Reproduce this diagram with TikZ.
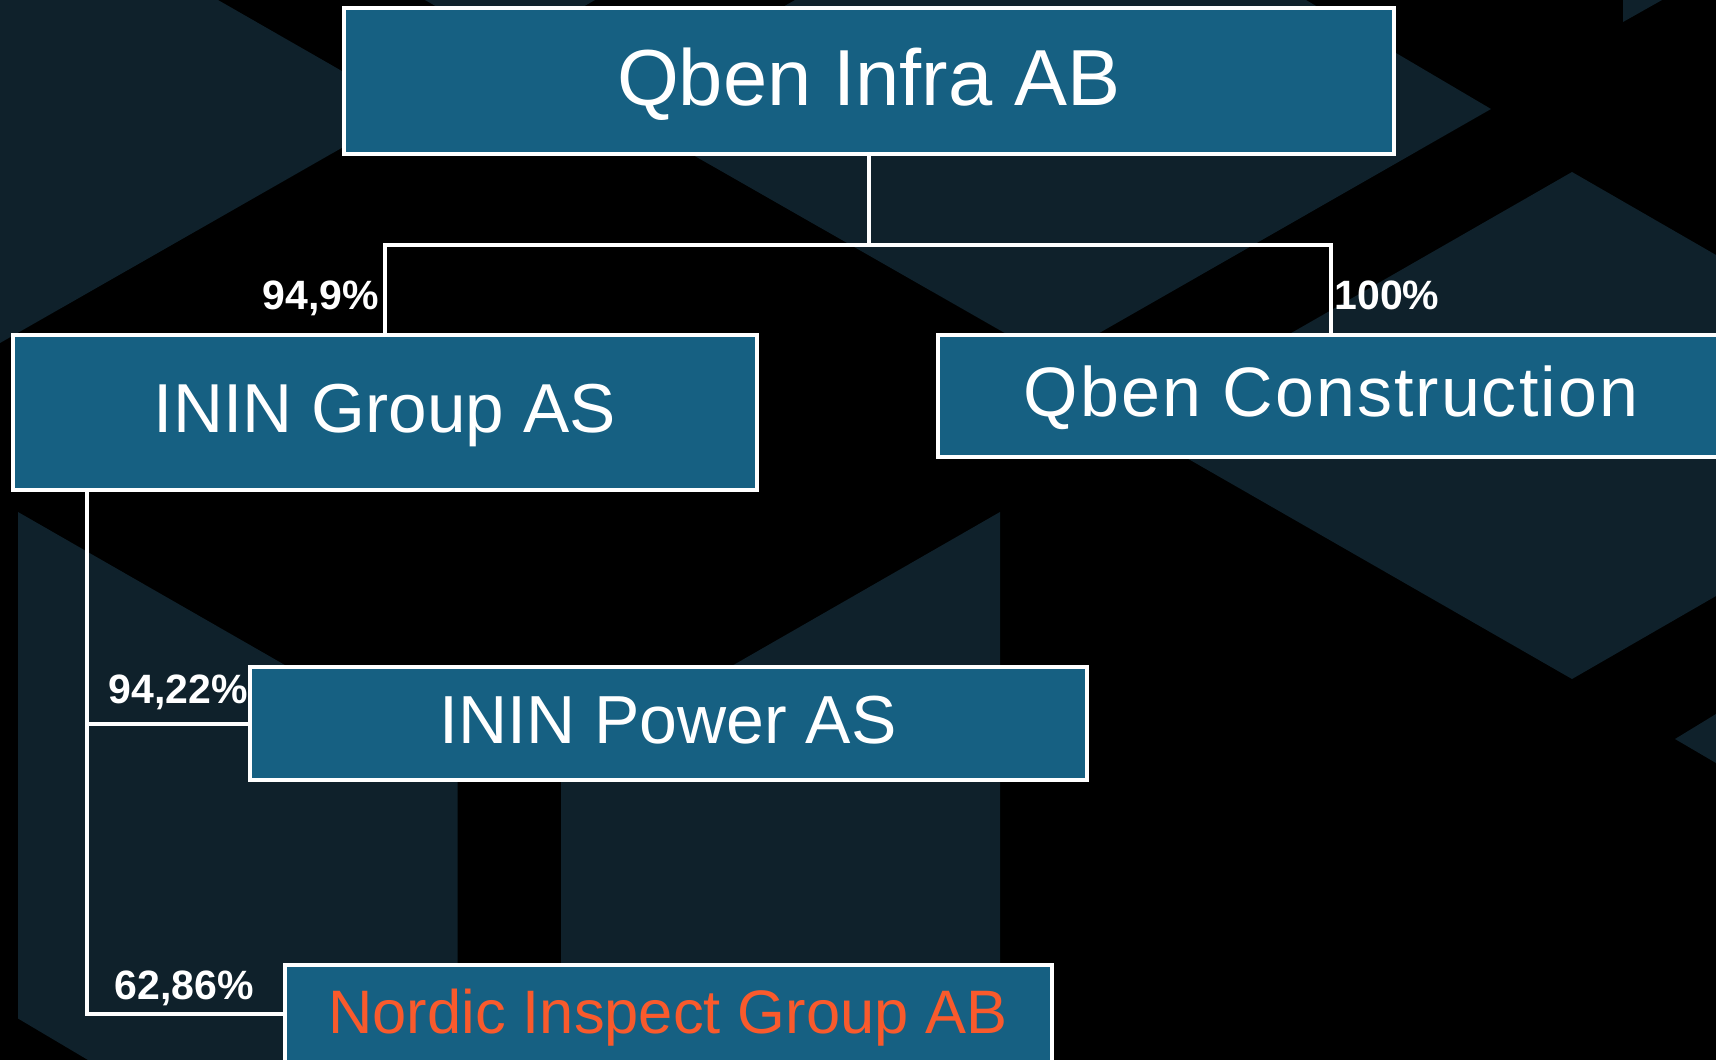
\documentclass[tikz,border=0pt]{standalone}
\usepackage{fontspec}
\setmainfont{Liberation Sans}
\definecolor{bgdark}{HTML}{0F212B}
\definecolor{boxblue}{HTML}{166082}
\definecolor{accent}{HTML}{F95A2C}
\tikzset{
  shade poly/.style={fill=bgdark,draw=none},
  orgbox/.style={draw=white,line width=4pt,fill=boxblue,text=white,inner sep=0pt,outer sep=0pt,text depth=0pt},
  link/.style={draw=white,line width=4pt,line cap=butt,line join=miter},
  pct/.style={text=white,inner sep=0pt,outer sep=0pt,font=\fontsize{41}{41}\selectfont\bfseries}
}
\begin{document}
\begin{tikzpicture}[x=1pt,y=-1pt]
\useasboundingbox (0,0) rectangle (1716,1060);
\clip (0,0) rectangle (1716,1060);
\fill[black] (0,0) rectangle (1716,1060);
% background shapes
\fill[shade poly] (0,0) -- (218,0) -- (409,109.5) -- (0,343) -- cycle;
\fill[shade poly] (425,0) -- (595,0) -- (510,49) -- cycle;
\fill[shade poly] (795,0) -- (1306,0) -- (1491,109) -- (1052,360) -- (609,107) -- cycle;
\fill[shade poly] (1130,425.5) -- (1572,172) -- (1716,255) -- (1716,596) -- (1572,679) -- cycle;
\fill[shade poly] (1623,0) -- (1662,0) -- (1623,22) -- cycle;
\fill[shade poly] (1675,739) -- (1716,714) -- (1716,763) -- cycle;
\fill[shade poly] (18,512) -- (457.5,764) -- (457.5,1060) -- (88,1060) -- (18,1018.5) -- cycle;
\fill[shade poly] (561,764) -- (1000,512) -- (1000,1060) -- (561,1060) -- cycle;
% boxes
\node[orgbox,minimum width=1050pt,minimum height=146pt,text height=49pt,font=\fontsize{79.5}{79.5}\selectfont] (top) at (869,81.3) {Qben Infra AB};
\node[orgbox,minimum width=744pt,minimum height=155pt,text height=41.4pt,font=\fontsize{69.3}{69.3}\selectfont] (group) at (385,412) {ININ Group AS};
\node[orgbox,minimum width=786pt,minimum height=122pt,text height=41pt,font=\addfontfeature{LetterSpace=2.9}\fontsize{70}{70}\selectfont] (constr) at (1331,396) {Qben Construction};
\node[orgbox,minimum width=837pt,minimum height=113.5pt,text height=40.6pt,font=\fontsize{68}{68}\selectfont] (power) at (668,723.5) {ININ Power AS};
\node[orgbox,minimum width=767pt,minimum height=99pt,text height=38.5pt,text=accent,font=\fontsize{61.4}{61.4}\selectfont] (nordic) at (668,1014.2) {Nordic Inspect Group AB};
% connectors
\coordinate (bus) at (869,244.5);
\coordinate (trunk) at (87,491);
\draw[link] (top.south) -- (bus);
\draw[link] (group.north) |- (bus) -| (constr.north);
\draw[link] (trunk) |- (nordic.west);
\draw[link] (trunk |- power.west) -- (power.west);
% labels
\node[pct,anchor=base east] (p1) at (379,309.5) {94,9\%};
\node[pct,anchor=base west] (p2) at (1334.5,309.5) {100\%};
\node[pct,anchor=base east] (p3) at (247.5,703) {94,22\%};
\node[pct,anchor=base east] (p4) at (254,999) {62,86\%};
\end{tikzpicture}
\end{document}
